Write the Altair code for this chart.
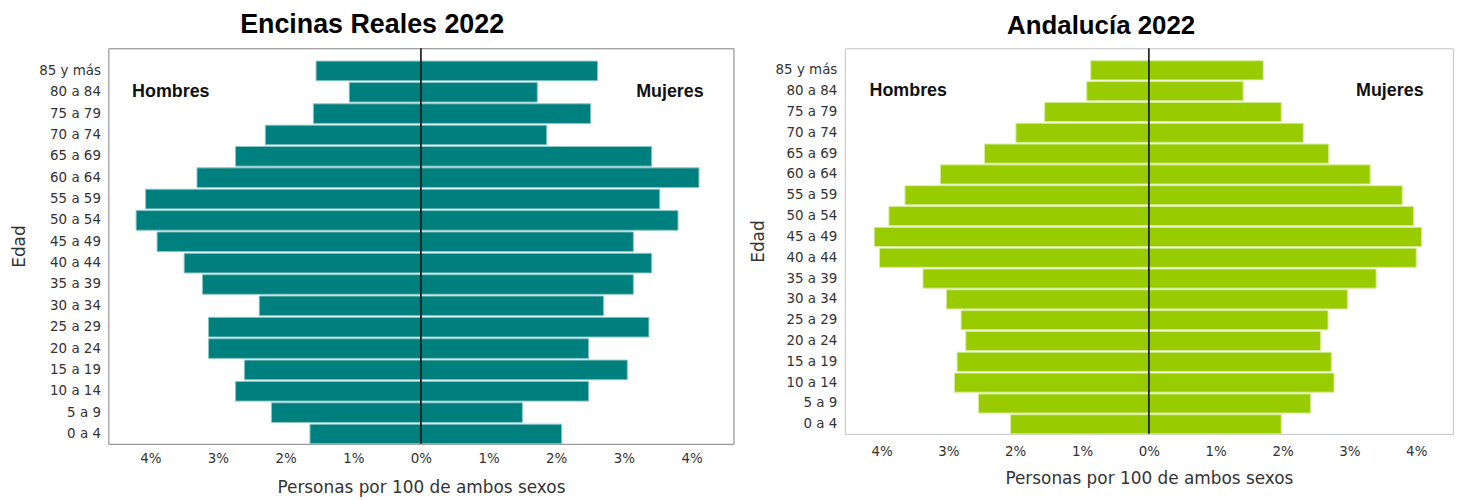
import altair as alt
import pandas as pd

# Age groups, bottom to top
ages = ["0 a 4", "5 a 9", "10 a 14", "15 a 19", "20 a 24", "25 a 29", "30 a 34",
        "35 a 39", "40 a 44", "45 a 49", "50 a 54", "55 a 59", "60 a 64",
        "65 a 69", "70 a 74", "75 a 79", "80 a 84", "85 y más"]

encinas_hombres = [1.64, 2.21, 2.74, 2.61, 3.14, 3.14, 2.39, 3.23, 3.50, 3.90,
                   4.21, 4.07, 3.31, 2.74, 2.30, 1.59, 1.06, 1.55]
encinas_mujeres = [2.08, 1.50, 2.48, 3.05, 2.48, 3.37, 2.70, 3.14, 3.41, 3.14,
                   3.80, 3.53, 4.11, 3.41, 1.86, 2.51, 1.72, 2.61]
andalucia_hombres = [2.07, 2.55, 2.91, 2.87, 2.74, 2.81, 3.03, 3.38, 4.03, 4.11,
                     3.89, 3.65, 3.12, 2.46, 1.99, 1.56, 0.93, 0.87]
andalucia_mujeres = [1.98, 2.42, 2.77, 2.73, 2.57, 2.68, 2.97, 3.40, 4.00, 4.08,
                     3.96, 3.79, 3.31, 2.69, 2.31, 1.98, 1.41, 1.71]

tick_values = [-4, -3, -2, -1, 0, 1, 2, 3, 4]
order_top_down = ages[::-1]

LABEL_FONT = "DejaVu Sans"
BOLD_FONT = "Liberation Sans"


def pyramid(title, title_size, hombres, mujeres, color, stroke, width, height, xmax,
            frame_color, hx, mx, x_label_pad, x_title_pad, y_title_pad):
    df = pd.DataFrame({
        "edad": ages + ages,
        "sexo": ["Hombres"] * len(ages) + ["Mujeres"] * len(ages),
        "valor": [-v for v in hombres] + list(mujeres),
    })
    x = alt.X(
        "valor:Q",
        scale=alt.Scale(domain=[-xmax, xmax], nice=False, zero=False),
        axis=alt.Axis(
            values=tick_values, labelExpr="abs(datum.value) + '%'",
            ticks=False, grid=False, domain=False,
            title="Personas por 100 de ambos sexos",
            labelFont=LABEL_FONT, labelFontSize=13.5, labelColor="#333333",
            labelPadding=x_label_pad,
            titleFont=LABEL_FONT, titleFontSize=17, titleFontWeight="normal",
            titleColor="#333333", titlePadding=x_title_pad,
        ),
    )
    y = alt.Y(
        "edad:N", sort=order_top_down,
        scale=alt.Scale(paddingInner=0.08, paddingOuter=0.3, align=1),
        axis=alt.Axis(
            title="Edad", ticks=False, domain=False, grid=False,
            labelFont=LABEL_FONT, labelFontSize=13.5, labelColor="#333333",
            labelPadding=8,
            titleFont=LABEL_FONT, titleFontSize=17, titleFontWeight="normal",
            titleColor="#333333", titlePadding=y_title_pad,
        ),
    )
    bars = alt.Chart(df).mark_bar(
        color=color, stroke=stroke, strokeWidth=1
    ).encode(x=x, y=y)

    zero = alt.Chart(pd.DataFrame({"valor": [0]})).mark_rule(
        color="black", strokeWidth=1.5
    ).encode(x="valor:Q")

    lab_h = alt.Chart(pd.DataFrame({"valor": [hx], "edad": ["80 a 84"], "t": ["Hombres"]})).mark_text(
        align="left", baseline="middle", font=BOLD_FONT, fontWeight="bold",
        fontSize=18, color="#111111"
    ).encode(x="valor:Q", y=alt.Y("edad:N", sort=order_top_down), text="t:N")

    lab_m = alt.Chart(pd.DataFrame({"valor": [mx], "edad": ["80 a 84"], "t": ["Mujeres"]})).mark_text(
        align="right", baseline="middle", font=BOLD_FONT, fontWeight="bold",
        fontSize=18, color="#111111"
    ).encode(x="valor:Q", y=alt.Y("edad:N", sort=order_top_down), text="t:N")

    return alt.layer(bars, zero, lab_h, lab_m).properties(
        width=width, height=height,
        title=alt.TitleParams(
            text=title, font=BOLD_FONT, fontSize=title_size, fontWeight="bold",
            color="#000000", anchor="middle", frame="bounds", offset=9,
        ),
        view=alt.ViewBackground(stroke=frame_color, strokeWidth=1),
    )


left = pyramid("Encinas Reales 2022", 27, encinas_hombres, encinas_mujeres,
               "#007f7f", "#8cc6c6", 629, 398, 4.62, "#808080",
               -4.27, 4.18, 8, 14, 10)
right = pyramid("Andalucía 2022", 26, andalucia_hombres, andalucia_mujeres,
                "#99cc00", "#d6ec99", 612, 388, 4.55, "#c4c4c4",
                -4.18, 4.11, 11, 12, 8)

chart = alt.hconcat(left, right, spacing=14).properties(
    padding={"left": 2, "top": 0, "right": 0, "bottom": 0},
    background="white",
)

chart.save("out.html", embed_options={"renderer": "svg", "actions": False})
